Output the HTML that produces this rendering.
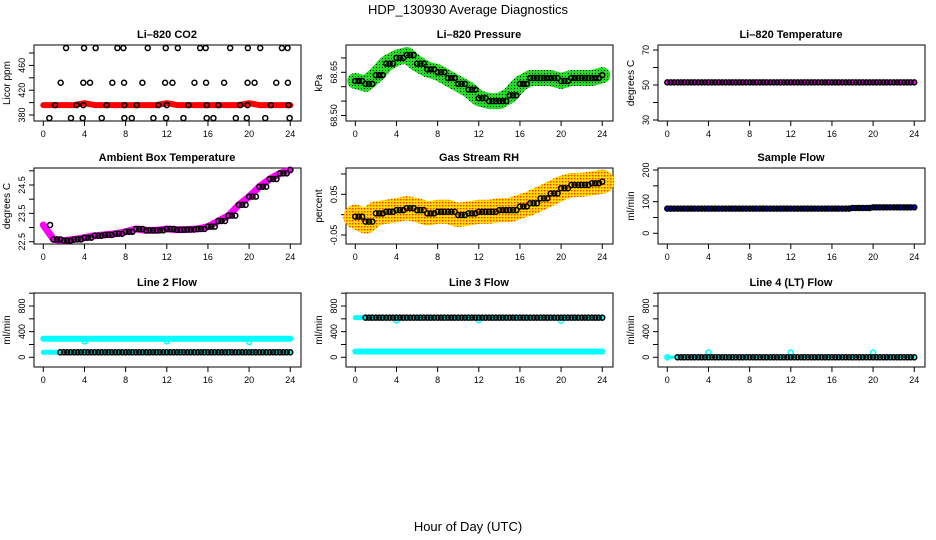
<!DOCTYPE html>
<html><head><meta charset="utf-8"><style>
html,body{margin:0;padding:0;background:#fff;}
svg{display:block;font-family:"Liberation Sans",Arial,sans-serif;}
</style></head><body>
<svg id="chart" width="936" height="540" viewBox="0 0 936 540" xmlns="http://www.w3.org/2000/svg">
<defs>
<pattern id="greenPat" width="3" height="3" patternUnits="userSpaceOnUse"><rect width="3" height="3" fill="#22dd22"/><rect x="1" y="1" width="1" height="1" fill="#000"/></pattern>
<pattern id="rhPat" width="3" height="3" patternUnits="userSpaceOnUse"><rect width="3" height="3" fill="#ffdd00"/><rect x="1" y="1" width="1.4" height="1.4" fill="#ff3000"/></pattern>
</defs>
<text x="468" y="14" font-size="13" text-anchor="middle">HDP_130930  Average Diagnostics</text>
<text x="468" y="531" font-size="13" text-anchor="middle">Hour of Day (UTC)</text>
</svg>
<script>
// ---- data ----
const hours = [0,1,2,3,4,5,6,7,8,9,10,11,12,13,14,15,16,17,18,19,20,21,22,23,24];
const xTicks = [0,4,8,12,16,20,24];
const co2TopT = [2.21,3.96,5.09,7.20,7.78,10.15,11.90,13.07,15.24,15.78,18.16,19.88,21.08,23.19,23.74];
const co2MidT = [1.69,3.89,4.54,6.71,7.85,9.63,11.84,12.55,14.69,15.82,17.57,19.85,20.53,22.64,23.77];
const co2LowT = [1.14,3.24,3.89,6.16,7.88,9.08,11.19,12.00,14.11,15.88,17.02,19.13,19.85,22.12,23.84];
const co2BotT = [0.59,2.69,3.83,5.68,7.88,8.60,10.70,11.93,13.62,15.88,16.53,18.71,19.78,21.57,23.94];
const co2Levels = [488,432,396,375];
const co2Red = [396,396,396,396,399,396,396,396,396,396,396,396,399,396,396,396,396,396,396,396,399,396,396,396,396];
const pressure = [68.62,68.61,68.64,68.68,68.70,68.71,68.68,68.66,68.65,68.63,68.61,68.59,68.56,68.55,68.55,68.57,68.61,68.63,68.63,68.63,68.62,68.63,68.63,68.63,68.64];
const licorTemp = [51.5,51.5,51.5,51.5,51.5,51.5,51.5,51.5,51.5,51.5,51.5,51.5,51.5,51.5,51.5,51.5,51.5,51.5,51.5,51.5,51.5,51.5,51.5,51.5,51.5];
const ambient = [23.09,22.58,22.54,22.58,22.64,22.71,22.74,22.78,22.85,22.95,22.90,22.90,22.95,22.92,22.93,22.95,23.03,23.23,23.42,23.80,24.09,24.44,24.71,24.91,25.03];
const rh = [-0.005,-0.017,0.003,0.007,0.011,0.016,0.011,0.003,0.007,0.007,-0.001,0.003,0.007,0.007,0.011,0.011,0.020,0.028,0.040,0.052,0.065,0.073,0.073,0.077,0.081];
const sampleFlow = [78,78,78,78,78,78,78,78,78,78,78,78,78,78,78,78,78,78,80,80,82,82,82,82,82];
const line2Hi = [290,290,290,290,290,290,290,290,290,290,290,290,290,290,290,290,290,290,290,290,290,290,290,290,290];
const line2Lo = [78,78,78,78,78,78,78,78,78,78,78,78,78,78,78,78,78,78,78,78,78,78,78,78,78];
const line3Hi = [618,618,618,618,618,618,618,618,618,618,618,618,618,618,618,618,618,618,618,618,618,618,618,618,618];
const line3Lo = [90,90,90,90,90,90,90,90,90,90,90,90,90,90,90,90,90,90,90,90,90,90,90,90,90];
const dipTimes = [4,12,20];
const line2Dips = [250,250,240];
const line3Dips = [575,580,570];
const line4Bumps = [75,75,75];
const line4 = [0,0,0,0,0,0,0,0,0,0,0,0,0,0,0,0,0,0,0,0,0,0,0,0,0];
const co2Ticks = [380,400,420,440,460,480], co2Labels = ["380","","420","","460",""];
const presTicks = [68.50,68.55,68.60,68.65,68.70], presLabels = ["68.50","","","68.65",""];
const tempTicks = [30,40,50,60,70], tempLabels = ["30","","50","","70"];
const ambTicks = [22.5,23.0,23.5,24.0,24.5,25.0], ambLabels = ["22.5","","23.5","","24.5",""];
const rhTicks = [-0.05,0,0.05,0.10], rhLabels = ["-0.05","","0.05",""];
const flowTicks = [0,50,100,150,200], flowLabels = ["0","","100","","200"];
const lineTicks = [0,200,400,600,800,1000], lineLabels = ["0","","400","","800",""];

const svg = document.getElementById('chart');
const NS = 'http://www.w3.org/2000/svg';
function mk(tag, attrs, parent){const e=document.createElementNS(NS,tag);for(const k in attrs)e.setAttribute(k,attrs[k]);(parent||svg).appendChild(e);return e;}

const rows=[[45,121],[168,244],[293,367]];
function panel(c,r,title,ylab,v0,y0,v1,y1,ticks,labels,name){
  const ox=c*312, top=rows[r][0], bot=rows[r][1];
  const g=mk('g',{});
  
  
  const xs=t=>ox+43.3+t*10.29;
  const ys=v=>y0+(v-v0)*(y1-y0)/(v1-v0);
  const box=mk('rect',{x:ox+34,y:top,width:267,height:bot-top,fill:'none',stroke:'#000','stroke-width':1},g);
  
  
  const tt=mk('text',{x:ox+167,y:top-7,'font-size':11,'font-weight':'bold','text-anchor':'middle'},g);
  tt.textContent=title;
  
  
  const yl=mk('text',{transform:`translate(${ox+10},${(top+bot)/2}) rotate(-90)`,'font-size':10,'text-anchor':'middle'},g);
  yl.textContent=ylab;
  
  
  xTicks.forEach(t=>{
    mk('line',{x1:xs(t),x2:xs(t),y1:bot,y2:bot+5,stroke:'#000'},g);
    const l=mk('text',{x:xs(t),y:bot+16,'font-size':9,'text-anchor':'middle'},g);
    l.textContent=t;
    
    
  });
  ticks.forEach((v,i)=>{
    mk('line',{x1:ox+29,x2:ox+34,y1:ys(v),y2:ys(v),stroke:'#000'},g);
    if(labels[i]){
      const l=mk('text',{transform:`translate(${ox+25},${ys(v)}) rotate(-90)`,'font-size':9,'text-anchor':'middle'},g);
      l.textContent=labels[i];
      
      
    }
  });
  return {g,xs,ys};
}
function band(p,vals,stroke,w,name){
  const pts=hours.map((t,i)=>p.xs(t)+','+p.ys(vals[i])).join(' ');
  const e=mk('polyline',{points:pts,fill:'none',stroke:stroke,'stroke-width':w,'stroke-linejoin':'round','stroke-linecap':'round'},p.g);
  
  
}
function circ(p,t,v,col,name){
  const e=mk('circle',{cx:p.xs(t),cy:p.ys(v),r:2.5,fill:'none',stroke:col,'stroke-width':1.5},p.g);
  
  
}
function blackSeries(p,vals,name,from){
  hours.forEach((t,i)=>{
    if(t>=24){circ(p,t,vals[i],'#000',name);return;}
    [0.5,0.83,1.16].forEach(d=>{ if(t+d-0.5>=(from||0)) circ(p,t+d-0.5,vals[i],'#000',name); });
  });
}

// CO2
let p=panel(0,0,'Li\u2013820 CO2','Licor ppm',380,115,480,53,co2Ticks,co2Labels,'co2');
band(p,co2Red,'#ff0000',6,'co2-red-series');
[co2TopT,co2MidT,co2LowT,co2BotT].forEach((arr,k)=>arr.forEach(t=>circ(p,t,co2Levels[k],'#000','co2-point')));

// Pressure
p=panel(1,0,'Li\u2013820 Pressure','kPa',68.50,115.5,68.65,72.3,presTicks,presLabels,'pressure');
band(p,pressure,'url(#greenPat)',16,'pressure-green-band');
blackSeries(p,pressure,'pressure-point');

// Licor temp
p=panel(2,0,'Li\u2013820 Temperature','degrees C',30,120,70,50,tempTicks,tempLabels,'licor-temp');
band(p,licorTemp,'#ff00ff',4,'licor-temp-band');
blackSeries(p,licorTemp,'licor-temp-point');

// Ambient
p=panel(0,1,'Ambient Box Temperature','degrees C',22.5,241.7,24.5,185,ambTicks,ambLabels,'ambient');
band(p,ambient,'#ff00ff',7,'ambient-band');
blackSeries(p,ambient,'ambient-point',0.5);

// RH
p=panel(1,1,'Gas Stream RH','percent',-0.05,235,0.05,194.3,rhTicks,rhLabels,'rh');
band(p,rh,'url(#rhPat)',24,'rh-band');
blackSeries(p,rh,'rh-point');

// Sample flow
p=panel(2,1,'Sample Flow','ml/min',0,233.3,200,170,flowTicks,flowLabels,'sample-flow');
band(p,sampleFlow,'#0000ff',5,'sample-flow-band');
blackSeries(p,sampleFlow,'sample-flow-point');

// Line 2
p=panel(0,2,'Line 2 Flow','ml/min',0,357.3,800,306,lineTicks,lineLabels,'line2');
band(p,line2Hi,'#00ffff',6,'line2-high-band');
band(p,line2Lo,'#00ffff',5,'line2-low-band');
dipTimes.forEach((t,i)=>circ(p,t,line2Dips[i],'#00ffff','line2-dip-point'));
blackSeries(p,line2Lo,'line2-point',1.5);

// Line 3
p=panel(1,2,'Line 3 Flow','ml/min',0,357.3,800,306,lineTicks,lineLabels,'line3');
band(p,line3Lo,'#00ffff',6,'line3-low-band');
band(p,line3Hi,'#00ffff',5,'line3-high-band');
dipTimes.forEach((t,i)=>circ(p,t,line3Dips[i],'#00ffff','line3-dip-point'));
blackSeries(p,line3Hi,'line3-point',1.0);

// Line 4
p=panel(2,2,'Line 4 (LT) Flow','ml/min',0,357.3,800,306,lineTicks,lineLabels,'line4');
band(p,line4,'#00ffff',3,'line4-band');
dipTimes.forEach((t,i)=>circ(p,t,line4Bumps[i],'#00ffff','line4-cyan-point'));
circ(p,0,0,'#00ffff','line4-cyan-point');
blackSeries(p,line4,'line4-point',1.0);
</script>
</body></html>
